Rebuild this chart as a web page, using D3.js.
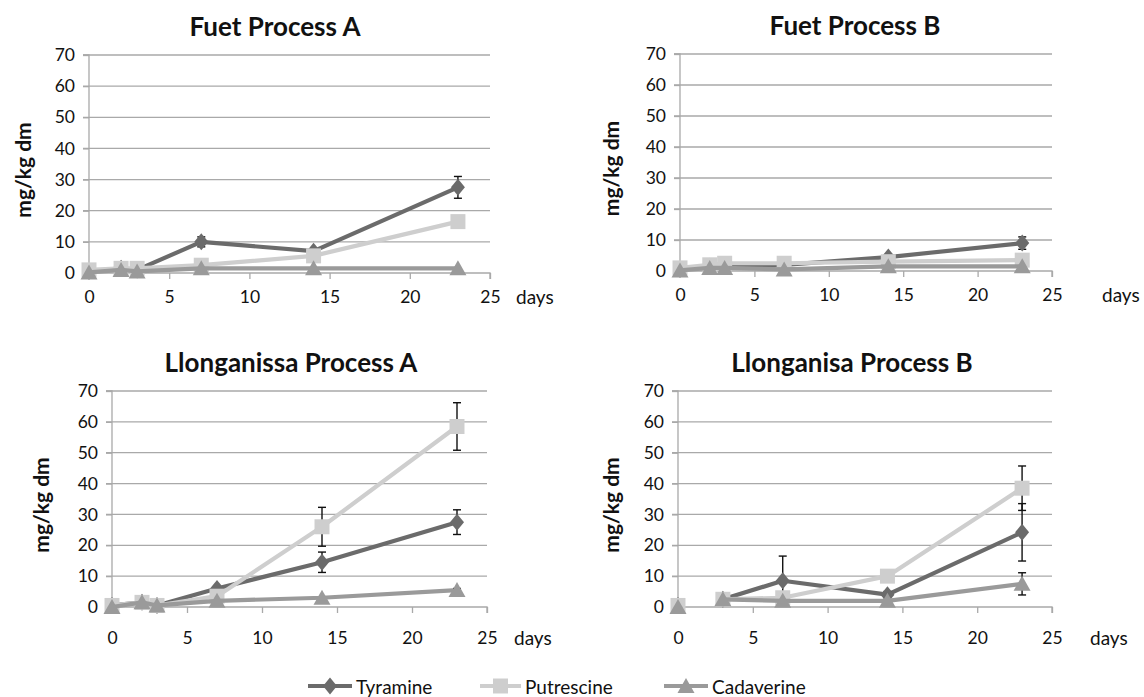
<!DOCTYPE html>
<html>
<head>
<meta charset="utf-8">
<script src="https://cdn.jsdelivr.net/npm/d3@7"></script>
<style>
  html, body { margin: 0; padding: 0; background: #fff; }
  svg { display: block; font-family: Lato, "Open Sans", sans-serif; }
</style>
</head>
<body>
<svg id="chart" width="1144" height="697"></svg>
<script>
// Sampling days (x values shared by all panels)
const days = [0, 2, 3, 7, 14, 23];
const xTicks = [0, 5, 10, 15, 20, 25];
const yTicks = [0, 10, 20, 30, 40, 50, 60, 70];
const seriesNames = ["Tyramine", "Putrescine", "Cadaverine"];
const panelTitles = ["Fuet Process A", "Fuet Process B", "Llonganissa Process A", "Llonganisa Process B"];

// Fuet, process A (mg/kg dm) and standard deviations
const fuetA_tyramine   = [0.5, 1.5, 1.0, 10.0, 7.0, 27.5];
const fuetA_tyramineSd = [0, 0.6, 0.6, 1.6, 0.8, 3.5];
const fuetA_putrescine   = [1.0, 1.5, 1.5, 2.5, 5.5, 16.5];
const fuetA_putrescineSd = [0, 0, 0, 0.3, 0.5, 0.8];
const fuetA_cadaverine   = [0.2, 1.0, 0.5, 1.5, 1.5, 1.5];
const fuetA_cadaverineSd = [0, 0, 0, 0, 0, 0];

// Fuet, process B
const fuetB_tyramine   = [0.5, 1.5, 1.5, 2.0, 4.5, 9.0];
const fuetB_tyramineSd = [0, 0.5, 0.5, 0.6, 0.8, 2.0];
const fuetB_putrescine   = [1.0, 2.0, 2.5, 2.5, 3.0, 3.5];
const fuetB_putrescineSd = [0, 0, 0, 0, 0, 0];
const fuetB_cadaverine   = [0.2, 1.0, 1.0, 0.5, 1.5, 1.5];
const fuetB_cadaverineSd = [0, 0, 0, 0, 0, 0];

// Llonganissa, process A
const llongA_tyramine   = [0.5, 1.5, 0.5, 6.0, 14.5, 27.5];
const llongA_tyramineSd = [0, 0.5, 1.0, 0.5, 3.3, 4.0];
const llongA_putrescine   = [0.5, 1.5, 0.5, 3.5, 26.0, 58.5];
const llongA_putrescineSd = [0, 0, 0, 0, 6.3, 7.7];
const llongA_cadaverine   = [0.0, 1.5, 0.5, 2.0, 3.0, 5.5];
const llongA_cadaverineSd = [0, 0, 0, 0, 0, 0.5];

// Llonganisa, process B (no sample on day 2)
const llongB_tyramine   = [0.5, null, 2.5, 8.5, 4.0, 24.2];
const llongB_tyramineSd = [0, 0, 0, 8.0, 1.0, 9.3];
const llongB_putrescine   = [0.5, null, 2.5, 3.0, 10.0, 38.5];
const llongB_putrescineSd = [0, 0, 0, 0, 0, 7.2];
const llongB_cadaverine   = [0.0, null, 2.5, 2.0, 2.0, 7.5];
const llongB_cadaverineSd = [0, 0, 0, 0, 0, 3.6];

const panelData = [
  [[fuetA_tyramine, fuetA_tyramineSd], [fuetA_putrescine, fuetA_putrescineSd], [fuetA_cadaverine, fuetA_cadaverineSd]],
  [[fuetB_tyramine, fuetB_tyramineSd], [fuetB_putrescine, fuetB_putrescineSd], [fuetB_cadaverine, fuetB_cadaverineSd]],
  [[llongA_tyramine, llongA_tyramineSd], [llongA_putrescine, llongA_putrescineSd], [llongA_cadaverine, llongA_cadaverineSd]],
  [[llongB_tyramine, llongB_tyramineSd], [llongB_putrescine, llongB_putrescineSd], [llongB_cadaverine, llongB_cadaverineSd]]
];

// Panel frames: plot area in page pixels
const frames = [
  { x0: 89,  x1: 490,  yTop: 55,  yBot: 273, titleX: 275, ylabX: 22,  daysX: 516, pad: 12 },
  { x0: 680, x1: 1052, yTop: 54,  yBot: 271, titleX: 855, ylabX: 610, daysX: 1102, pad: 12 },
  { x0: 112, x1: 487,  yTop: 391, yBot: 607, titleX: 291, ylabX: 40,  daysX: 514, pad: 19 },
  { x0: 678, x1: 1052, yTop: 391, yBot: 607, titleX: 852, ylabX: 610, daysX: 1090, pad: 19 }
];

const colors = ["#6b6b6b", "#cecece", "#9a9a9a"];
const gridColor = "#a9a9a9";
const tickFont = 17.5;

function markerPath(kind) {
  if (kind === 0) return "M0,-8.5L7,0L0,8.5L-7,0Z";          // diamond
  if (kind === 1) return "M-7.5,-7.5H7.5V7.5H-7.5Z";        // square
  return "M0,-8L8.5,7H-8.5Z";                                // triangle
}

const svg = d3.select("#chart");

panelData.forEach((series, p) => {
  const f = frames[p];
  const x = d3.scaleLinear().domain([0, 25]).range([f.x0, f.x1]);
  const y = d3.scaleLinear().domain([0, 70]).range([f.yBot, f.yTop]);
  const g = svg.append("g");

  // horizontal gridlines with short left stubs
  g.selectAll("line.grid").data(yTicks.filter(t => t > 0)).join("line")
    .attr("x1", f.x0 - 6).attr("x2", f.x1)
    .attr("y1", d => y(d)).attr("y2", d => y(d))
    .attr("stroke", gridColor).attr("stroke-width", 1.3);

  // y axis
  const yAxis = d3.axisLeft(y).tickValues(yTicks).tickSize(6).tickPadding(8);
  const ya = g.append("g").attr("transform", `translate(${f.x0},0)`).call(yAxis);
  ya.select(".domain").attr("stroke", gridColor).attr("stroke-width", 1.3).attr("d", `M-6,${f.yTop}H0V${f.yBot}`);
  ya.selectAll(".tick line").attr("stroke", gridColor).attr("stroke-width", 1.3);
  ya.selectAll(".tick text").attr("font-size", tickFont).attr("fill", "#111").attr("font-family", "Lato");

  // x axis
  const xAxis = d3.axisBottom(x).tickValues(xTicks).tickSize(6).tickPadding(f.pad);
  const xa = g.append("g").attr("transform", `translate(0,${f.yBot})`).call(xAxis);
  xa.select(".domain").attr("stroke", gridColor).attr("stroke-width", 1.3).attr("d", `M${f.x0 - 6},0H${f.x1}V6`);
  xa.selectAll(".tick line").attr("stroke", gridColor).attr("stroke-width", 1.3);
  xa.selectAll(".tick text").attr("font-size", tickFont).attr("fill", "#111").attr("font-family", "Lato");

  // "days" unit label, on the same row as the tick labels
  g.append("text").attr("x", f.daysX).attr("y", f.yBot + 6 + f.pad)
    .attr("dy", "0.71em")
    .attr("font-size", 19).attr("fill", "#111").text("days");

  // title
  g.append("text").attr("x", f.titleX).attr("y", f.yTop - 19)
    .attr("text-anchor", "middle").attr("font-size", 26).attr("font-weight", "bold")
    .attr("fill", "#111").text(panelTitles[p]);

  // y axis title
  g.append("text")
    .attr("transform", `translate(${f.ylabX},${(f.yTop + f.yBot) / 2 + 6}) rotate(-90)`)
    .attr("text-anchor", "middle").attr("dominant-baseline", "central")
    .attr("font-size", 21).attr("font-weight", "bold").attr("fill", "#111").text("mg/kg dm");

  // series: line, error bars, markers
  series.forEach(([vals, sds], s) => {
    const pts = days.map((d, i) => ({ d, v: vals[i], sd: sds[i] }));
    const line = d3.line().defined(q => q.v !== null).x(q => x(q.d)).y(q => y(q.v));
    g.append("path").datum(pts).attr("d", line)
      .attr("fill", "none").attr("stroke", colors[s]).attr("stroke-width", 4.2)
      .attr("stroke-linejoin", "round");

    const eb = pts.filter(q => q.v !== null && q.sd > 0);
    const ebg = g.append("g").attr("stroke", "#111").attr("stroke-width", 1.4);
    ebg.selectAll("line.v").data(eb).join("line")
      .attr("x1", q => x(q.d)).attr("x2", q => x(q.d))
      .attr("y1", q => y(q.v + q.sd)).attr("y2", q => y(Math.max(0, q.v - q.sd)));
    ebg.selectAll("line.t").data(eb).join("line")
      .attr("x1", q => x(q.d) - 4).attr("x2", q => x(q.d) + 4)
      .attr("y1", q => y(q.v + q.sd)).attr("y2", q => y(q.v + q.sd));
    ebg.selectAll("line.b").data(eb.filter(q => q.v - q.sd > 0.5)).join("line")
      .attr("x1", q => x(q.d) - 4).attr("x2", q => x(q.d) + 4)
      .attr("y1", q => y(q.v - q.sd)).attr("y2", q => y(q.v - q.sd));

    g.selectAll(null).data(pts.filter(q => q.v !== null)).join("path")
      .attr("transform", q => `translate(${x(q.d)},${y(q.v)})`)
      .attr("d", markerPath(s)).attr("fill", colors[s]);
  });
});

// legend
const legendItems = [
  { x1: 308, x2: 352, tx: 356 },
  { x1: 480, x2: 521, tx: 525 },
  { x1: 664, x2: 708, tx: 712 }
];
const lg = svg.append("g");
seriesNames.forEach((name, s) => {
  const it = legendItems[s];
  const cy = 686;
  lg.append("line").attr("x1", it.x1).attr("x2", it.x2).attr("y1", cy).attr("y2", cy)
    .attr("stroke", colors[s]).attr("stroke-width", 4.2);
  lg.append("path").attr("transform", `translate(${(it.x1 + it.x2) / 2},${cy})`)
    .attr("d", markerPath(s)).attr("fill", colors[s]);
  lg.append("text").attr("x", it.tx).attr("y", cy).attr("dominant-baseline", "central")
    .attr("font-size", 19).attr("fill", "#111").text(name);
});
</script>
</body>
</html>
